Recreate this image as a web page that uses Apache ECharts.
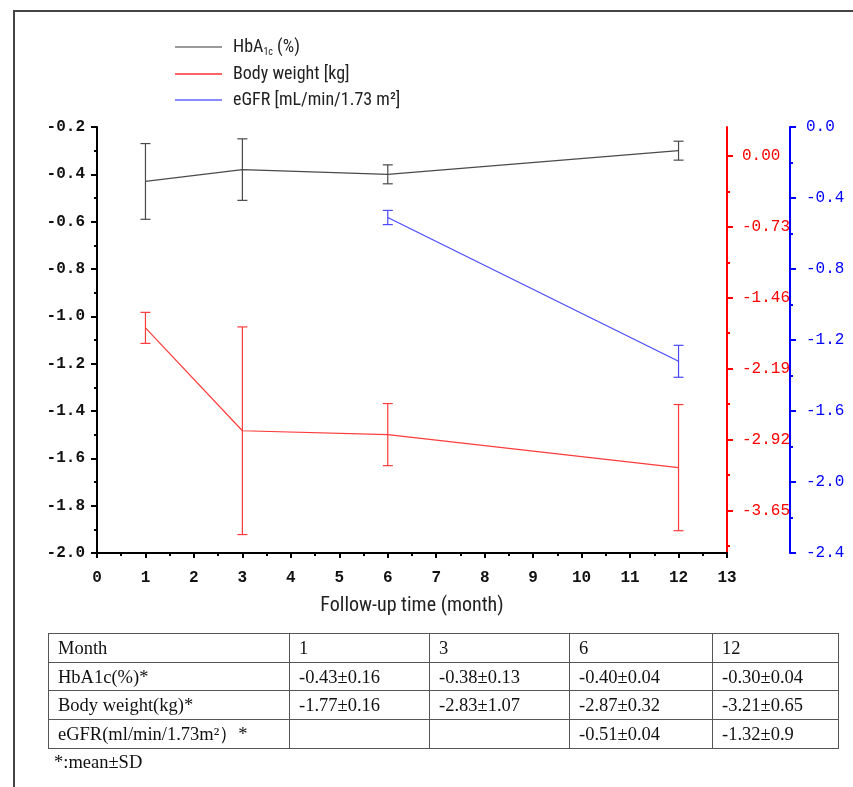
<!DOCTYPE html>
<html>
<head>
<meta charset="utf-8">
<script src="https://cdn.jsdelivr.net/npm/echarts@6/dist/echarts.min.js"></script>
<style>
  html, body { margin:0; padding:0; background:#fff; }
  #wrap { position:relative; width:853px; height:787px; overflow:hidden; }
  #frame { position:absolute; left:13px; top:10px; width:900px; height:900px; border-left:2px solid #444; border-top:2px solid #444; box-sizing:border-box; }
  #chart { position:absolute; left:0; top:0; width:853px; height:787px; }
  #tbl { position:absolute; left:48px; top:633px; border-collapse:collapse; font-family:"Liberation Serif","DejaVu Serif",serif; font-size:18.5px; color:#111; }
  #tbl td { border:1px solid #555; height:28.7px; padding:0 0 0 9px; box-sizing:border-box; white-space:nowrap; line-height:18px; }
  #note { position:absolute; left:54px; top:752px; font-family:"Liberation Serif","DejaVu Serif",serif; font-size:18.5px; color:#111; }
</style>
</head>
<body>
<div id="wrap">
  <div id="frame"></div>
  <div id="chart"></div>
  <table id="tbl"></table>
  <div id="note"></div>
</div>
<script>
// ---- data ----
const months = [1, 3, 6, 12];
const hba1cMean = [-0.43, -0.38, -0.40, -0.30];
const hba1cSD = [0.16, 0.13, 0.04, 0.04];
const weightMean = [-1.77, -2.83, -2.87, -3.21];
const weightSD = [0.16, 1.07, 0.32, 0.65];
const egfrMonths = [6, 12];
const egfrMean = [-0.51, -1.32];
const egfrSD = [0.04, 0.09];
const redTickValues = [0.00, -0.73, -1.46, -2.19, -2.92, -3.65];
const redMinorValues = [-0.365, -1.095, -1.825, -2.555, -3.285, -4.015];
const seriesNames = ['HbA1c (%)', 'Body weight [kg]', 'eGFR [mL/min/1.73 m²]'];
const tableHeader = ['Month', '1', '3', '6', '12'];
const tableHbA1c = ['HbA1c(%)*', '-0.43±0.16', '-0.38±0.13', '-0.40±0.04', '-0.30±0.04'];
const tableWeight = ['Body weight(kg)*', '-1.77±0.16', '-2.83±1.07', '-2.87±0.32', '-3.21±0.65'];
const tableEGFR = ['eGFR(ml/min/1.73m²）*', '', '', '-0.51±0.04', '-1.32±0.9'];
const footnote = '*:mean±SD';

// ---- table ----
const colW = [241, 140, 140, 143, 126];
const tbl = document.getElementById('tbl');
[tableHeader, tableHbA1c, tableWeight, tableEGFR].forEach(row => {
  const tr = document.createElement('tr');
  row.forEach((c, i) => {
    const td = document.createElement('td');
    td.textContent = c;
    td.style.width = colW[i] + 'px';
    td.style.minWidth = colW[i] + 'px';
    td.style.maxWidth = colW[i] + 'px';
    tr.appendChild(td);
  });
  tbl.appendChild(tr);
});
document.getElementById('note').textContent = footnote;

// ---- chart ----
const cBlack = '#4a4a4a', cRed = '#ff3b3b', cBlue = '#4a4aff';
const tickFont = '"Liberation Mono","DejaVu Sans Mono",monospace';
const narrow = '"Liberation Sans Narrow","Roboto Condensed",Roboto,sans-serif';

function errData(xs, means, sds) {
  return xs.map((x, i) => [x, means[i] - sds[i], means[i] + sds[i]]);
}
function errRender(color) {
  return function (params, api) {
    const x = api.value(0);
    const lo = api.coord([x, api.value(1)]);
    const hi = api.coord([x, api.value(2)]);
    const w = 5;
    const st = { stroke: color, lineWidth: 1.2 };
    return {
      type: 'group',
      children: [
        { type: 'line', shape: { x1: lo[0], y1: lo[1], x2: hi[0], y2: hi[1] }, style: st },
        { type: 'line', shape: { x1: lo[0] - w, y1: lo[1], x2: lo[0] + w, y2: lo[1] }, style: st },
        { type: 'line', shape: { x1: hi[0] - w, y1: hi[1], x2: hi[0] + w, y2: hi[1] }, style: st }
      ]
    };
  };
}
function pairs(xs, ys) { return xs.map((x, i) => [x, ys[i]]); }

const chart = echarts.init(document.getElementById('chart'), null, { renderer: 'canvas' });
const option = {
  animation: false,
  grid: { left: 97, right: 126, top: 127, bottom: 234, containLabel: false },
  legend: {
    orient: 'vertical',
    left: 175, top: 38, padding: 0,
    icon: 'rect',
    itemWidth: 47, itemHeight: 2, itemGap: 8,
    selectedMode: false,
    data: [
      { name: seriesNames[0], itemStyle: { color: '#9a9a9a' } },
      { name: seriesNames[1], itemStyle: { color: '#ff6464' } },
      { name: seriesNames[2], itemStyle: { color: '#8a8aff' } }
    ],
    formatter: function (name) {
      if (name === seriesNames[0]) return '{n|HbA}{s|1c}{n| (%)}';
      return '{n|' + name + '}';
    },
    textStyle: {
      padding: [0, 0, 0, 6],
      rich: {
        n: { fontFamily: narrow, fontSize: 18, color: '#222', lineHeight: 20 },
        s: { fontFamily: narrow, fontSize: 10, color: '#222', lineHeight: 20, verticalAlign: 'bottom', padding: [9, 0, 0, 0] }
      }
    }
  },
  xAxis: {
    type: 'value', min: 0, max: 13, interval: 1,
    name: 'Follow-up time (month)', nameLocation: 'middle', nameGap: 43,
    nameTextStyle: { fontFamily: narrow, fontSize: 20, color: '#222' },
    axisLine: { onZero: false, lineStyle: { color: '#000', width: 2 } },
    axisTick: { show: true, inside: false, length: 5, lineStyle: { color: '#000', width: 2 } },
    minorTick: { show: true, splitNumber: 2, length: 3, lineStyle: { color: '#000', width: 2 } },
    axisLabel: { fontFamily: tickFont, fontSize: 16, fontWeight: 'bold', color: '#111', margin: 17 },
    splitLine: { show: false }
  },
  yAxis: [
    {
      type: 'value', min: -2.0, max: -0.2, interval: 0.2, position: 'left',
      axisLine: { show: true, onZero: false, lineStyle: { color: '#000', width: 2 } },
      axisTick: { show: true, length: 6, lineStyle: { color: '#000', width: 2 } },
      minorTick: { show: true, splitNumber: 2, length: 3, lineStyle: { color: '#000', width: 2 } },
      axisLabel: { fontFamily: tickFont, fontSize: 16, fontWeight: 'bold', color: '#111', margin: 12,
        formatter: v => v.toFixed(1) },
      splitLine: { show: false }
    },
    {
      type: 'value', min: -4.09, max: 0.30, position: 'right', offset: 0,
      axisLine: { show: true, onZero: false, lineStyle: { color: '#ff0000', width: 2 } },
      axisTick: { show: true, length: 6, customValues: redTickValues, lineStyle: { color: '#ff0000', width: 2 } },
      axisLabel: { show: true, customValues: redTickValues, fontFamily: tickFont, fontSize: 16, color: '#ff0000', margin: 15,
        formatter: v => v.toFixed(2) },
      splitLine: { show: false }
    },
    {
      type: 'value', min: -4.09, max: 0.30, position: 'right', offset: 0,
      axisLine: { show: false, onZero: false },
      axisTick: { show: true, length: 3, customValues: redMinorValues, lineStyle: { color: '#ff0000', width: 2 } },
      axisLabel: { show: false },
      splitLine: { show: false }
    },
    {
      type: 'value', min: -2.4, max: 0, interval: 0.4, position: 'right', offset: 63,
      axisLine: { show: true, onZero: false, lineStyle: { color: '#0000ff', width: 2 } },
      axisTick: { show: true, length: 6, lineStyle: { color: '#0000ff', width: 2 } },
      minorTick: { show: true, splitNumber: 2, length: 3, lineStyle: { color: '#0000ff', width: 2 } },
      axisLabel: { fontFamily: tickFont, fontSize: 16, color: '#0000ff', margin: 16,
        formatter: v => v.toFixed(1) },
      splitLine: { show: false }
    }
  ],
  series: [
    { name: seriesNames[0], type: 'line', yAxisIndex: 0, data: pairs(months, hba1cMean),
      symbol: 'none', lineStyle: { color: cBlack, width: 1.2 }, itemStyle: { color: cBlack } },
    { name: seriesNames[1], type: 'line', yAxisIndex: 1, data: pairs(months, weightMean),
      symbol: 'none', lineStyle: { color: cRed, width: 1.2 }, itemStyle: { color: cRed } },
    { name: seriesNames[2], type: 'line', yAxisIndex: 3, data: pairs(egfrMonths, egfrMean),
      symbol: 'none', lineStyle: { color: cBlue, width: 1.2 }, itemStyle: { color: cBlue } },
    { type: 'custom', yAxisIndex: 0, renderItem: errRender(cBlack), data: errData(months, hba1cMean, hba1cSD), encode: { x: 0, y: [1, 2] } },
    { type: 'custom', yAxisIndex: 1, renderItem: errRender(cRed), data: errData(months, weightMean, weightSD), encode: { x: 0, y: [1, 2] } },
    { type: 'custom', yAxisIndex: 3, renderItem: errRender(cBlue), data: errData(egfrMonths, egfrMean, egfrSD), encode: { x: 0, y: [1, 2] } }
  ]
};
chart.setOption(option);
</script>
</body>
</html>
